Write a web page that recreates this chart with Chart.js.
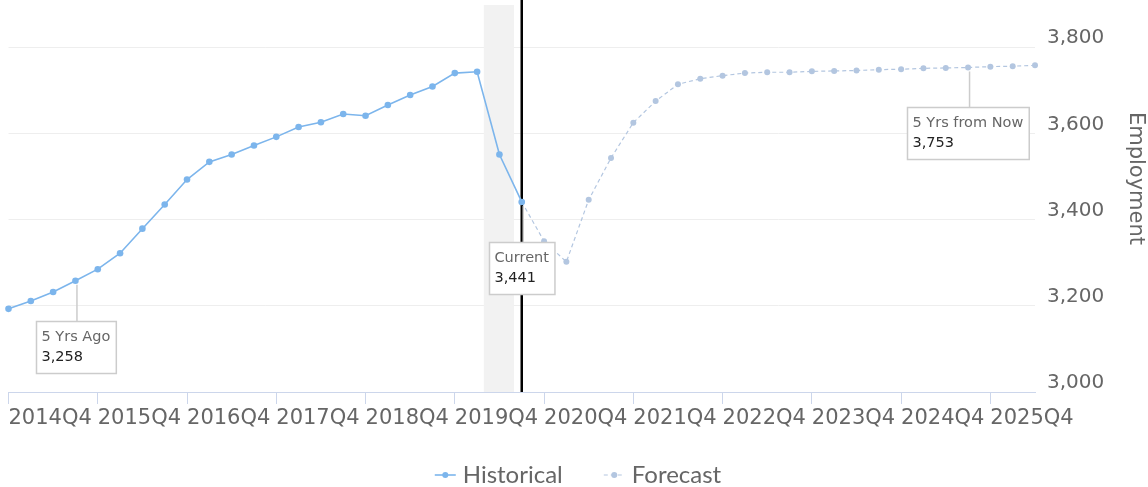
<!DOCTYPE html>
<html>
<head>
<meta charset="utf-8">
<script src="https://cdn.jsdelivr.net/npm/chart.js@4.4.1/dist/chart.umd.min.js"></script>
<style>
  html, body { margin: 0; padding: 0; background: #fff; }
</style>
</head>
<body>
<canvas id="employmentChart" width="1148" height="487"></canvas>
<script>
// quarters on the x axis (2014Q4 .. 2026Q2)
const quarters = [
  '2014Q4',
  '2015Q1', '2015Q2', '2015Q3', '2015Q4',
  '2016Q1', '2016Q2', '2016Q3', '2016Q4',
  '2017Q1', '2017Q2', '2017Q3', '2017Q4',
  '2018Q1', '2018Q2', '2018Q3', '2018Q4',
  '2019Q1', '2019Q2', '2019Q3', '2019Q4',
  '2020Q1', '2020Q2', '2020Q3', '2020Q4',
  '2021Q1', '2021Q2', '2021Q3', '2021Q4',
  '2022Q1', '2022Q2', '2022Q3', '2022Q4',
  '2023Q1', '2023Q2', '2023Q3', '2023Q4',
  '2024Q1', '2024Q2', '2024Q3', '2024Q4',
  '2025Q1', '2025Q2', '2025Q3', '2025Q4',
  '2026Q1', '2026Q2'
];

// 2014Q4 .. 2020Q3
const historicalValues = [
  3193, 3211, 3232, 3258, 3285, 3322, 3379, 3435, 3493, 3534, 3551, 3572,
  3592, 3615, 3626, 3645, 3641, 3666, 3689, 3709, 3740, 3743, 3551, 3441
];

// 2020Q3 .. 2026Q2
const forecastValues = [
  3441, 3350, 3302, 3446, 3543, 3625, 3675, 3714, 3727, 3734, 3740, 3742,
  3742, 3744, 3745, 3746, 3748, 3749, 3751, 3752, 3753, 3755, 3756, 3758
];

const forecastStart = 23;
const currentIndex = 23;
const recessionBand = [21.3, 22.65];
const yTickValues = [3000, 3200, 3400, 3600, 3800];
const labelEvery = 4;

const callouts = [
  { index: 3, label: '5 Yrs Ago' },
  { index: 23, label: 'Current' },
  { index: 43, label: '5 Yrs from Now' }
];

const FONT = 'DejaVu Sans';

function valueAt(i) {
  if (i < historicalValues.length) return historicalValues[i];
  return forecastValues[i - forecastStart];
}

function padSeries(values, start) {
  const out = [];
  for (let i = 0; i < quarters.length; i++) {
    const v = values[i - start];
    out.push(v === undefined ? null : v);
  }
  return out;
}

// grey recession band + "current" line
const bandPlugin = {
  id: 'band',
  beforeDatasetsDraw(chart) {
    const { ctx, chartArea, scales } = chart;
    const x0 = scales.x.getPixelForValue(recessionBand[0]);
    const x1 = scales.x.getPixelForValue(recessionBand[1]);
    ctx.save();
    ctx.fillStyle = '#f2f2f2';
    ctx.fillRect(x0, chartArea.top, x1 - x0, chartArea.bottom - chartArea.top);
    const xc = scales.x.getPixelForValue(currentIndex);
    ctx.strokeStyle = '#000';
    ctx.lineWidth = 2.5;
    ctx.beginPath();
    ctx.moveTo(xc, 0);
    ctx.lineTo(xc, chartArea.bottom);
    ctx.stroke();
    ctx.restore();
  }
};

const calloutPlugin = {
  id: 'callouts',
  afterDatasetsDraw(chart) {
    const { ctx, scales } = chart;
    ctx.save();
    ctx.font = '14.5px "' + FONT + '"';
    callouts.forEach(c => {
      const v = valueAt(c.index);
      const valueText = v.toLocaleString('en-US');
      const px = scales.x.getPixelForValue(c.index);
      const py = scales.y.getPixelForValue(v);
      const w = Math.max(ctx.measureText(c.label).width, ctx.measureText(valueText).width) + 11;
      const h = 52;
      const left = Math.round(px - w / 2) + 0.5;
      const top = Math.round(py + 40) + 0.5;

      ctx.strokeStyle = '#cccccc';
      ctx.lineWidth = 1.5;
      ctx.beginPath();
      ctx.moveTo(px + 1.5, py + 4);
      ctx.lineTo(px + 1.5, top);
      ctx.stroke();

      ctx.fillStyle = '#ffffff';
      ctx.fillRect(left, top, w, h);
      ctx.strokeRect(left, top, w, h);

      ctx.textAlign = 'left';
      ctx.textBaseline = 'middle';
      ctx.fillStyle = '#666666';
      ctx.fillText(c.label, left + 5, top + 16);
      ctx.fillStyle = '#222222';
      ctx.fillText(valueText, left + 5, top + 36);
    });
    ctx.restore();
  }
};

const legendPlugin = {
  id: 'customLegend',
  afterDraw(chart) {
    const ctx = chart.ctx;
    ctx.save();
    ctx.font = '24px Lato';
    const sym = 21, gap = 7, between = 41;
    const items = chart.data.datasets.map(ds => ({ ds, w: ctx.measureText(ds.label).width }));
    const total = items.reduce((a, it) => a + sym + gap + it.w, 0) + between * (items.length - 1);
    let x = chart.width / 2 + 4 - total / 2;
    const y = 475;
    items.forEach(it => {
      const ds = it.ds;
      ctx.strokeStyle = ds.borderColor;
      ctx.lineWidth = ds.borderWidth;
      ctx.setLineDash(ds.borderDash || []);
      ctx.beginPath();
      ctx.moveTo(x, y);
      ctx.lineTo(x + sym, y);
      ctx.stroke();
      ctx.setLineDash([]);
      ctx.fillStyle = ds.pointBackgroundColor;
      ctx.beginPath();
      ctx.arc(x + sym / 2, y, 3, 0, Math.PI * 2);
      ctx.fill();
      ctx.fillStyle = '#666666';
      ctx.textAlign = 'left';
      ctx.textBaseline = 'middle';
      ctx.fillText(ds.label, x + sym + gap, y);
      x += sym + gap + it.w + between;
    });
    ctx.restore();
  }
};

const ctx = document.getElementById('employmentChart').getContext('2d');
new Chart(ctx, {
  type: 'line',
  data: {
    labels: quarters,
    datasets: [
      {
        label: 'Historical',
        data: padSeries(historicalValues, 0),
        borderColor: '#7cb5ec',
        backgroundColor: '#7cb5ec',
        pointBackgroundColor: '#7cb5ec',
        borderWidth: 1.6,
        pointRadius: 3.3,
        pointBorderWidth: 0,
        tension: 0,
        clip: false
      },
      {
        label: 'Forecast',
        data: padSeries(forecastValues, forecastStart),
        borderColor: '#b3c6e0',
        backgroundColor: '#b3c6e0',
        pointBackgroundColor: '#b3c6e0',
        borderWidth: 1.2,
        borderDash: [4, 3],
        pointRadius: 3,
        pointBorderWidth: 0,
        tension: 0,
        clip: false
      }
    ]
  },
  options: {
    responsive: false,
    animation: false,
    devicePixelRatio: 1,
    layout: { padding: { left: 8.5, top: 5, right: 0, bottom: 42 } },
    plugins: {
      legend: { display: false },
      tooltip: { enabled: false }
    },
    scales: {
      x: {
        grid: { drawOnChartArea: false, drawTicks: true, tickLength: 12, color: '#ccd6eb', lineWidth: 1 },
        border: { display: true, color: '#ccd6eb', width: 1 },
        ticks: {
          autoSkip: false, maxRotation: 0, minRotation: 0, align: 'start', padding: 2,
          color: '#666666', font: { family: FONT, size: 21 }
        },
        afterBuildTicks: s => { s.ticks = s.ticks.filter(t => t.value % labelEvery === 0); },
        afterFit: s => {
          s.height = 53;
          s.paddingLeft = 0; s.paddingRight = 0;
        }
      },
      y: {
        position: 'right',
        min: 3000,
        max: 3898,
        afterBuildTicks: s => { s.ticks = yTickValues.map(v => ({ value: v })); },
        grid: {
          color: c => (c.tick && c.tick.value === 3000) ? 'rgba(0,0,0,0)' : '#eeeeee',
          drawTicks: false, lineWidth: 1
        },
        border: { display: false },
        ticks: {
          padding: 12, labelOffset: -9, color: '#666666',
          font: { family: FONT, size: 20 },
          callback: v => v.toLocaleString('en-US')
        },
        title: {
          display: true, text: 'Employment      ', color: '#666666',
          font: { family: FONT, size: 21 }, padding: 0
        },
        afterFit: s => {
          s.width = 113;
          s.paddingTop = 0; s.paddingBottom = 0;
        }
      }
    }
  },
  plugins: [bandPlugin, calloutPlugin, legendPlugin]
});
</script>
</body>
</html>
